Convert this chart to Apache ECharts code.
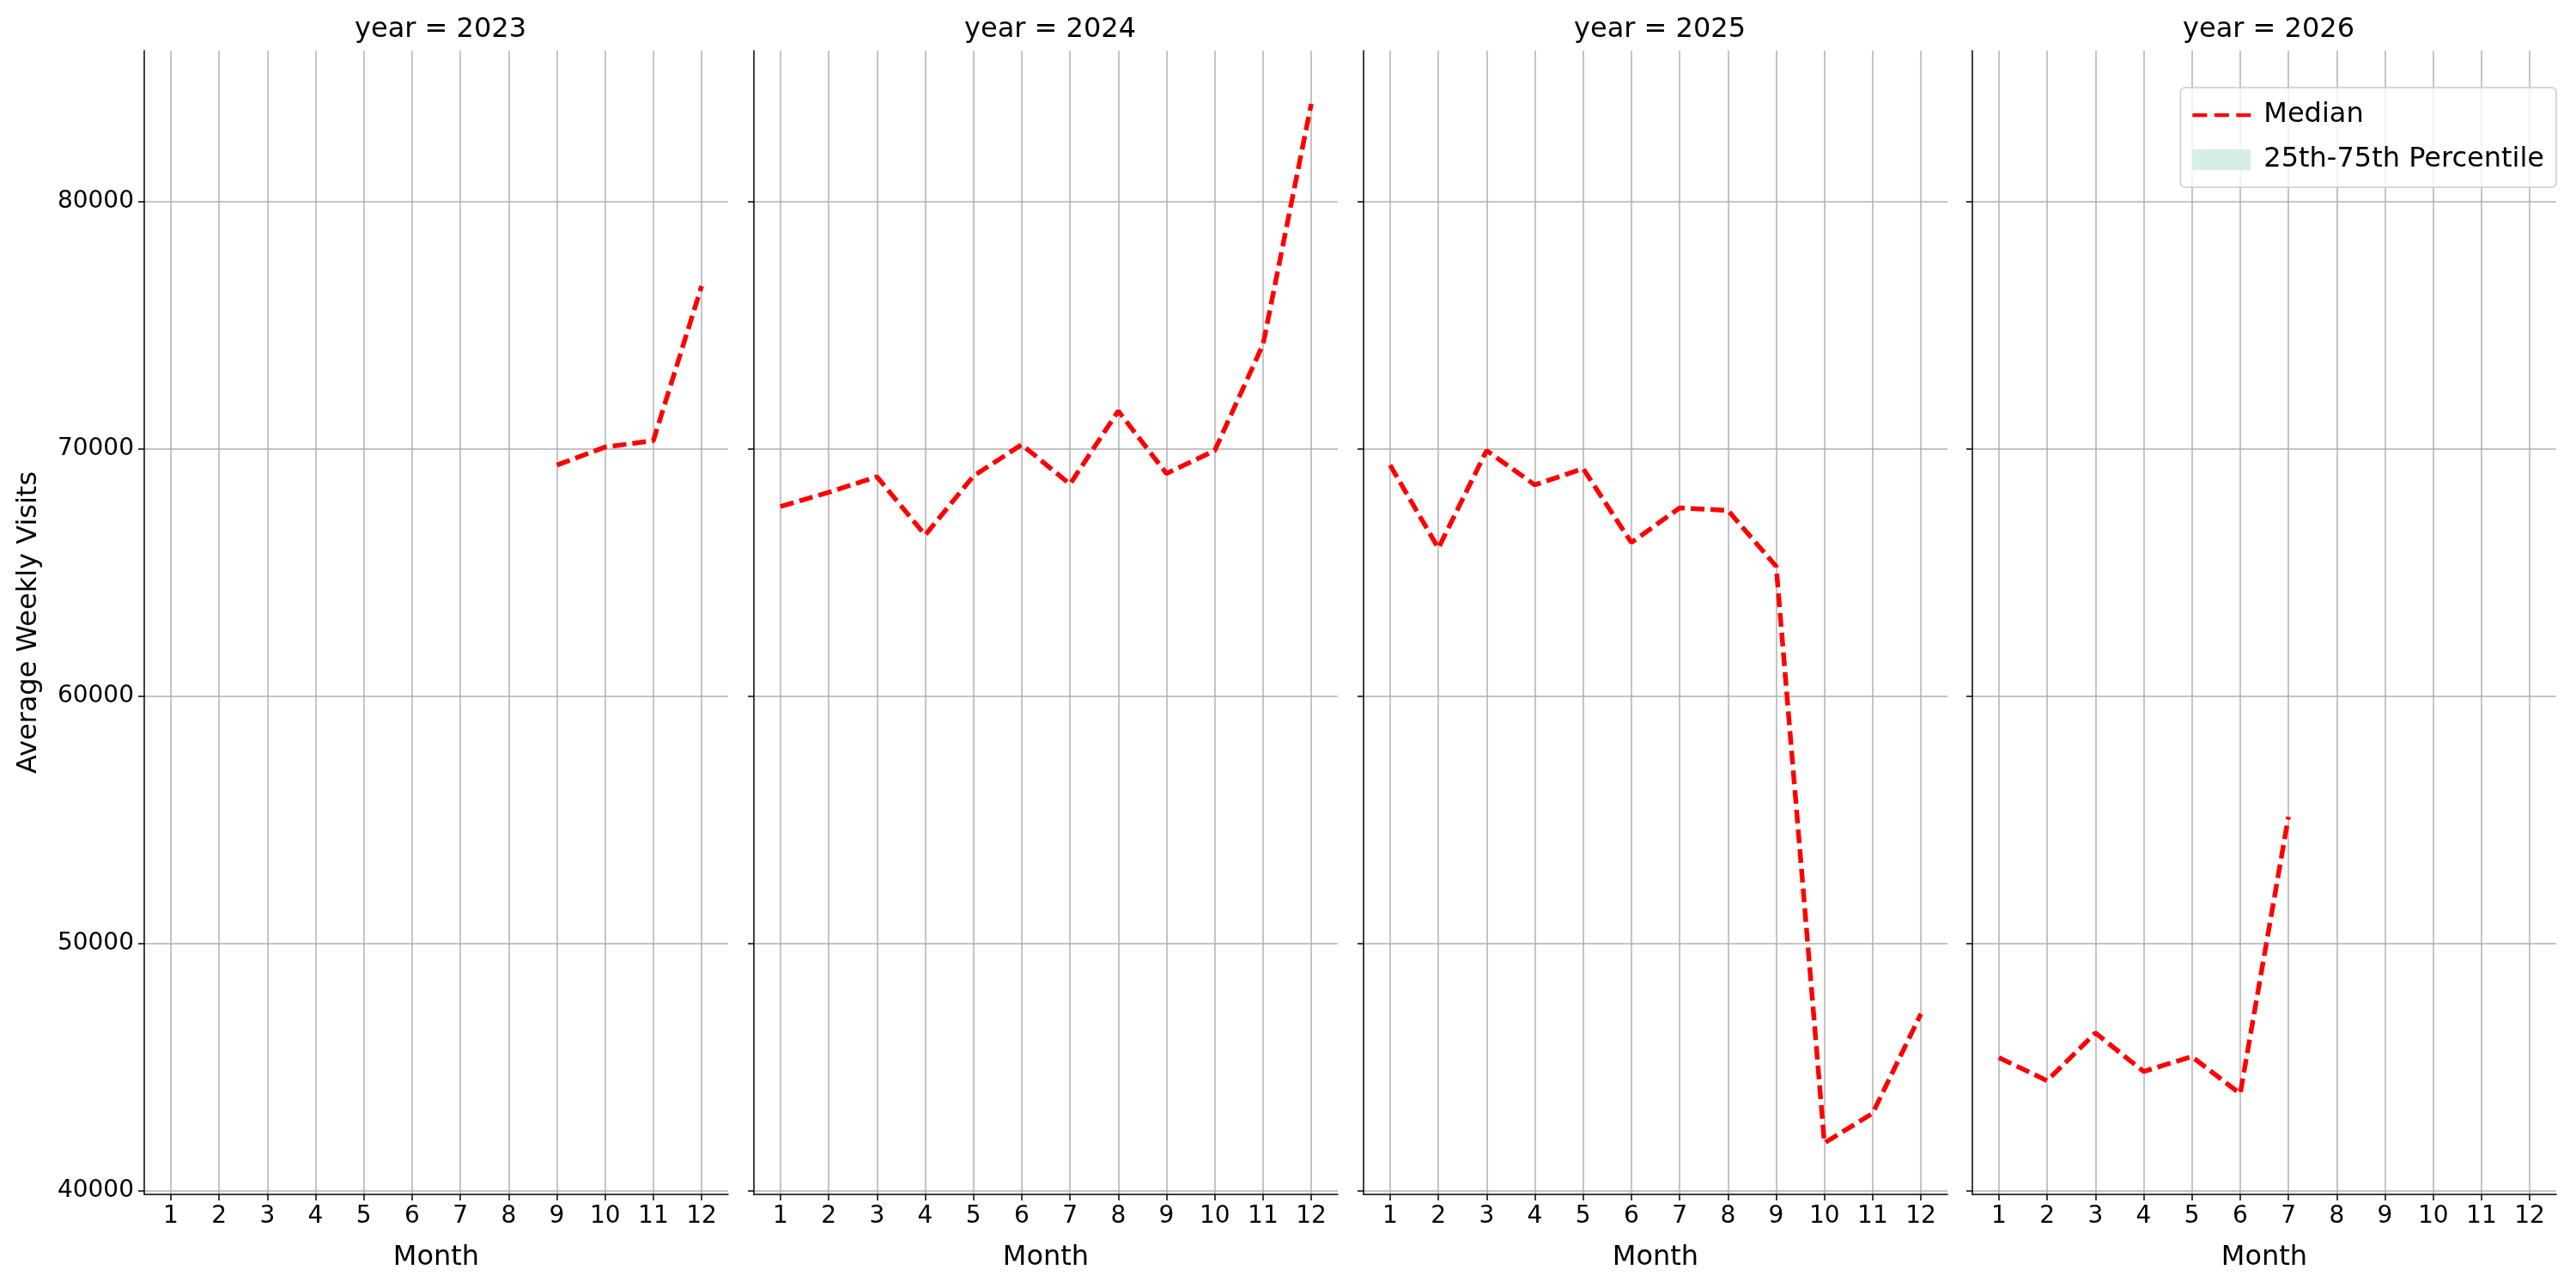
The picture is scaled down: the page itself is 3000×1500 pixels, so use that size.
<!DOCTYPE html>
<html><head><meta charset="utf-8">
<script src="https://cdn.jsdelivr.net/npm/echarts@6/dist/echarts.min.js"></script>
<style>html,body{margin:0;background:#fff}#c{width:3000px;height:1500px}</style>
</head><body><div id="c"></div>
<script>
const years = [2023, 2024, 2025, 2026];
const months = [1,2,3,4,5,6,7,8,9,10,11,12];
const yTicks = [40000, 50000, 60000, 70000, 80000];
const median2023 = [null,null,null,null,null,null,null,null,69340,70070,70330,76580];
const median2024 = [67670,68240,68870,66510,68900,70170,68570,71530,69000,69930,74220,83950];
const median2025 = [69340,65980,69930,68540,69200,66210,67610,67510,65250,41930,43130,47150];
const median2026 = [45380,44450,46380,44820,45420,43920,55120,null,null,null,null,null];
const medians = [median2023, median2024, median2025, median2026];

const F = 'DejaVu Sans';
const lefts = [168, 878, 1588, 2297];
const W = 680, TOP = 59, H = 1332;
const grids = [], xAxes = [], yAxes = [], series = [], titles = [];
years.forEach((yr, i) => {
  grids.push({left: lefts[i], top: TOP, width: W, height: H});
  xAxes.push({type:'value', gridIndex:i, min:0.45, max:12.55, interval:1,
    name:'Month', nameLocation:'middle', nameGap:58, nameTextStyle:{fontFamily:F,fontSize:32,color:'#000'},
    axisLine:{show:true,onZero:false,lineStyle:{color:'#000',width:1.5}},
    axisTick:{show:true,length:7,lineStyle:{color:'#000',width:1.5},customValues:months},
    axisLabel:{fontFamily:F,fontSize:28,color:'#000',margin:12,customValues:months,showMinLabel:true,showMaxLabel:true,formatter:v=>String(v)},
    splitLine:{show:true,lineStyle:{color:'#b0b0b0',width:1.5}}});
  yAxes.push({type:'value', gridIndex:i, min:39850, max:86100,
    name: i===0 ? 'Average Weekly Visits' : '', nameLocation:'middle', nameGap:118,
    nameTextStyle:{fontFamily:F,fontSize:32,color:'#000'},
    axisLine:{show:true,lineStyle:{color:'#000',width:1.5}},
    axisTick:{show:true,length:7,lineStyle:{color:'#000',width:1.5},customValues:yTicks},
    axisLabel:{show:i===0,fontFamily:F,fontSize:28,color:'#000',margin:12,customValues:yTicks,formatter:v=>String(v)},
    splitLine:{show:true,lineStyle:{color:'#b0b0b0',width:1.5}}});
  series.push({type:'line', name:'Median', xAxisIndex:i, yAxisIndex:i, symbol:'none',
    data: months.map((m,k)=>[m, medians[i][k]]), connectNulls:false,
    lineStyle:{color:'#ff0000', width:5.5, type:[16,7]}, itemStyle:{color:'#ff0000'}, silent:true});
  titles.push({text:'year = '+yr, left: lefts[i]+W/2, top: 14, textAlign:'center',
    textStyle:{fontFamily:F,fontSize:32,fontWeight:'normal',color:'#000'}});
});
series.push({type:'line', name:'25th-75th Percentile', xAxisIndex:3, yAxisIndex:3, data:[],
  itemStyle:{color:'#d6eee7'}, lineStyle:{color:'#d6eee7'}, areaStyle:{color:'#d6eee7'}});

const chart = echarts.init(document.getElementById('c'), null, {renderer:'canvas'});
chart.setOption({
  animation:false, backgroundColor:'#fff',
  title: titles, grid: grids, xAxis: xAxes, yAxis: yAxes, series: series,
  legend: {right: 23, top: 102, orient:'vertical', itemGap:20, itemWidth:68, itemHeight:24,
    padding:[16,14,16,14], borderColor:'#cccccc', borderWidth:1.5, borderRadius:5, backgroundColor:'rgba(255,255,255,0.8)',
    textStyle:{fontFamily:F,fontSize:32,color:'#000',padding:[0,0,0,10]},
    data:[{name:'Median', icon:'path://M0,10 L16,10 L16,14 L0,14 Z M24,10 L40,10 L40,14 L24,14 Z M48,10 L64,10 L64,14 L48,14 Z', itemStyle:{color:'#ff0000'}},
          {name:'25th-75th Percentile', icon:'rect', itemStyle:{color:'#d6eee7'}}]}
});
</script></body></html>
